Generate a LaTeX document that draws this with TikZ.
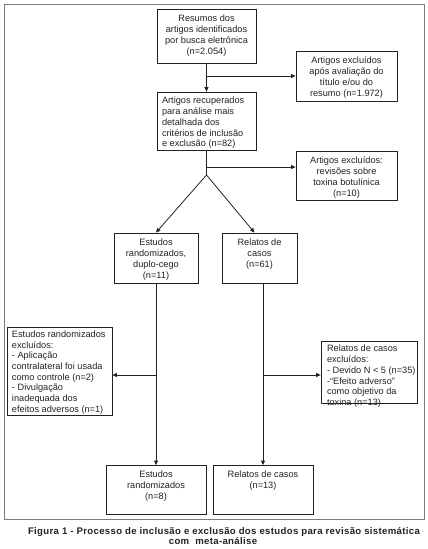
\documentclass[tikz,border=0pt]{standalone}
\usepackage{fontspec}
\setmainfont{Liberation Sans}
\newfontfamily\capfont[LetterSpace=3.5]{Liberation Sans}
\usetikzlibrary{arrows.meta}
\newcommand\padtop{4.5pt}
\newcommand\cbx[3]{\parbox[c][#2][t]{#1}{\vspace*{\padtop}\centering\begin{tabular}[t]{@{}c@{}}#3\end{tabular}\par}}
\newcommand\lbx[4]{\parbox[c][#2][t]{#1}{\vspace*{\padtop}\hspace*{#3}\begin{tabular}[t]{@{}l@{}}#4\end{tabular}\par}}
\definecolor{ink}{HTML}{222222}
\definecolor{framecol}{HTML}{7A7A7A}
\tikzset{
  bx/.style={draw=ink, line width=0.8pt, inner sep=0pt, text=ink, font=\fontsize{9.2}{11}\selectfont},
  bxtight/.style={bx, font=\fontsize{9.2}{10.7}\selectfont},
  conn/.style={draw=ink, line width=0.8pt},
  arr/.style={conn, -{Triangle[length=4.5pt,width=4pt]}},
  framebox/.style={draw=framecol, line width=1pt},
  captxt/.style={font=\capfont\fontsize{9.6}{10.5}\selectfont\bfseries, text=ink, align=center, inner sep=0pt}
}
\begin{document}
\begin{tikzpicture}[x=1pt,y=-1pt]
\useasboundingbox (0,0) rectangle (428,549);
\draw[framebox] (4,4) rectangle (424,519);

\node[bx] (B1) at (206.5,36) {\cbx{99pt}{54pt}{Resumos dos\\artigos identificados\\por busca eletrônica\\(n=2.054)}};
\node[bx] (E1) at (346.5,76) {\cbx{101pt}{50pt}{Artigos excluídos\\após avaliação do\\título e/ou do\\resumo (n=1.972)}};
\node[bxtight] (B2) at (206.5,121) {\lbx{99pt}{58pt}{5pt}{Artigos recuperados\\para análise mais\\detalhada dos\\critérios de inclusão\\e exclusão (n=82)}};
\node[bx] (E2) at (346.5,175.5) {\cbx{101pt}{49pt}{Artigos excluídos:\\revisões sobre\\toxina botulínica\\(n=10)}};
\node[bx] (B3) at (156,258) {\cbx{84pt}{50pt}{Estudos\\randomizados,\\duplo-cego\\(n=11)}};
\node[bx] (B4) at (259.5,258) {\cbx{75pt}{50pt}{Relatos de\\casos\\(n=61)}};
\node[bxtight] (L) at (59.5,371) {\renewcommand\padtop{3pt}\lbx{105pt}{88pt}{5pt}{Estudos randomizados\\excluídos:\\- Aplicação\\contralateral foi usada\\como controle (n=2)\\- Divulgação\\inadequada dos\\efeitos adversos (n=1)}};
\node[bxtight] (R) at (369,372) {\renewcommand\padtop{3.5pt}\lbx{96pt}{62pt}{6pt}{Relatos de casos\\excluídos:\\- Devido N < 5 (n=35)\\-“Efeito adverso”\\como objetivo da\\toxina (n=13)}};
\node[bx] (B5) at (156,490) {\cbx{100pt}{49pt}{Estudos\\randomizados\\(n=8)}};
\node[bx] (B6) at (263,490) {\cbx{100pt}{49pt}{Relatos de casos\\(n=13)}};

\coordinate (c1) at (206.5,76);
\coordinate (c2) at (206.5,167);
\coordinate (s) at (206.5,175);
\coordinate (c3) at (156,375);
\coordinate (c4) at (263,375);

\draw[arr] (B1.south) -- (B2.north);
\draw[arr] (c1) -- (E1.west);
\draw[conn] (B2.south) -- (s);
\draw[arr] (c2) -- (c2 -| E2.west);
\draw[arr] (s) -- (B3.north);
\draw[arr] (s) -- ([xshift=-5pt]B4.north);
\draw[arr] (B3.south) -- (B5.north);
\draw[arr] ([xshift=3.5pt]B4.south) -- (B6.north);
\draw[arr] (c3) -- (c3 -| L.east);
\draw[arr] (c4) -- (c4 -| R.west);

\node[captxt] (cap) at (224,536) {Figura 1 - Processo de inclusão e exclusão dos estudos para revisão sistemática\\com\ \ meta-análise\hspace*{22pt}};
\end{tikzpicture}
\end{document}
